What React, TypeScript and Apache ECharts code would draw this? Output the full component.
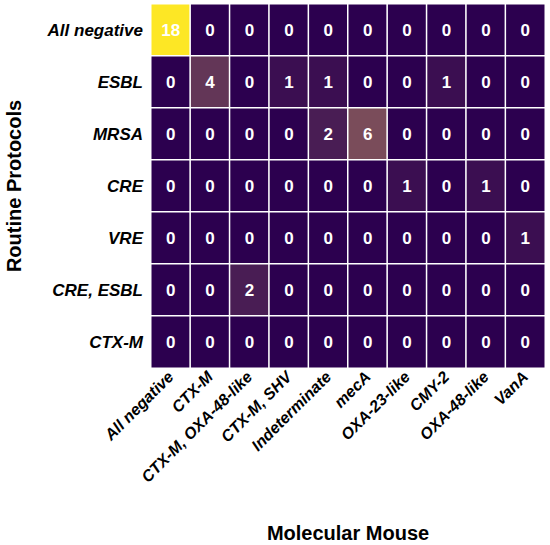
import React, { useEffect, useRef } from "react";
import * as echarts from "echarts";

const xCategories = [
  "All negative",
  "CTX-M",
  "CTX-M, OXA-48-like",
  "CTX-M, SHV",
  "Indeterminate",
  "mecA",
  "OXA-23-like",
  "CMY-2",
  "OXA-48-like",
  "VanA",
];

const yCategories = ["All negative", "ESBL", "MRSA", "CRE", "VRE", "CRE, ESBL", "CTX-M"];

const rowAllNegative = [18, 0, 0, 0, 0, 0, 0, 0, 0, 0];
const rowESBL = [0, 4, 0, 1, 1, 0, 0, 1, 0, 0];
const rowMRSA = [0, 0, 0, 0, 2, 6, 0, 0, 0, 0];
const rowCRE = [0, 0, 0, 0, 0, 0, 1, 0, 1, 0];
const rowVRE = [0, 0, 0, 0, 0, 0, 0, 0, 0, 1];
const rowCREESBL = [0, 0, 2, 0, 0, 0, 0, 0, 0, 0];
const rowCTXM = [0, 0, 0, 0, 0, 0, 0, 0, 0, 0];

const rows = [rowAllNegative, rowESBL, rowMRSA, rowCRE, rowVRE, rowCREESBL, rowCTXM];

const colorStops = ["#2c004f", "#582b56", "#7a4c5a", "#9e6e5c", "#c09250", "#e0bb3e", "#fde725"];

export default function App() {
  const ref = useRef<HTMLDivElement>(null);

  useEffect(() => {
    if (!ref.current) return;
    const chart = echarts.init(ref.current, null, { renderer: "svg" });
    const data: number[][] = [];
    rows.forEach((row, yi) => {
      row.forEach((v, xi) => data.push([xi, yi, v]));
    });
    const font = "'Liberation Sans', Arial, sans-serif";
    chart.setOption({
      animation: false,
      backgroundColor: "#ffffff",
      grid: {
        left: 151,
        right: 5,
        top: 4,
        bottom: 177,
        containLabel: false,
        outerBoundsMode: "none",
      },
      xAxis: {
        type: "category",
        data: xCategories,
        name: "Molecular Mouse",
        nameLocation: "middle",
        nameGap: 155,
        nameMoveOverlap: false,
        nameTextStyle: { fontFamily: font, fontWeight: "bold", fontSize: 20, color: "#000" },
        axisLine: { show: false },
        axisTick: { show: false },
        splitLine: { show: false },
        axisLabel: {
          rotate: 45,
          interval: 0,
          margin: 6,
          fontFamily: font,
          fontWeight: "bold",
          fontStyle: "italic",
          fontSize: 16,
          color: "#000",
        },
      },
      yAxis: {
        type: "category",
        data: yCategories,
        inverse: true,
        name: "Routine Protocols",
        nameLocation: "middle",
        nameGap: 127,
        nameRotate: 90,
        nameMoveOverlap: false,
        nameTextStyle: { fontFamily: font, fontWeight: "bold", fontSize: 20, color: "#000" },
        axisLine: { show: false },
        axisTick: { show: false },
        splitLine: { show: false },
        axisLabel: {
          margin: 8,
          fontFamily: font,
          fontWeight: "bold",
          fontStyle: "italic",
          fontSize: 17,
          color: "#000",
        },
      },
      visualMap: {
        show: false,
        type: "continuous",
        min: 0,
        max: 18,
        dimension: 2,
        inRange: { color: colorStops },
      },
      series: [
        {
          type: "heatmap",
          data,
          itemStyle: { borderColor: "#ffffff", borderWidth: 1.5 },
          label: {
            show: true,
            color: "#ffffff",
            fontFamily: font,
            fontWeight: "bold",
            fontSize: 17,
          },
          emphasis: { disabled: true },
        },
      ],
    });
    return () => chart.dispose();
  }, []);

  return (
    <div
      ref={ref}
      style={{ position: "absolute", left: 0, top: 0, width: 550, height: 545 }}
    />
  );
}
